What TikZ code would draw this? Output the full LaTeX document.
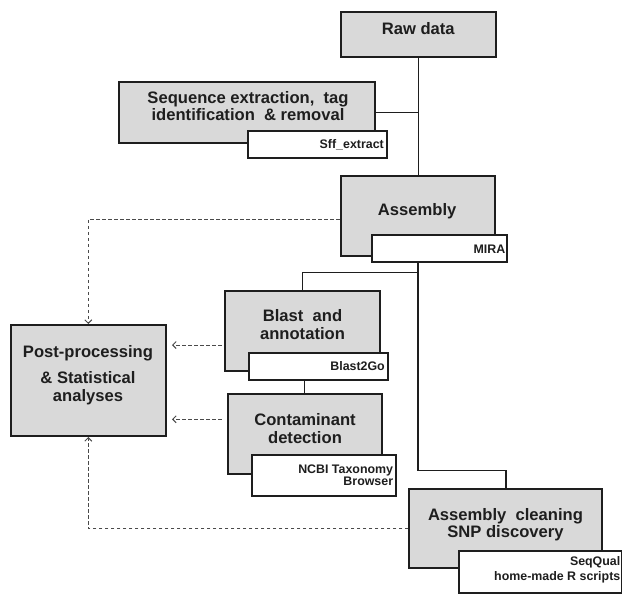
\documentclass[tikz,border=0pt]{standalone}
\usepackage{fontspec}
\setmainfont{Liberation Sans}
\usetikzlibrary{arrows.meta}
\definecolor{boxfill}{HTML}{D9D9D9}
\definecolor{ink}{HTML}{1E1E1E}
\definecolor{dashc}{HTML}{4A4A4A}
\begin{document}
\begin{tikzpicture}[x=1pt,y=-1pt,
  gbox/.style={draw=ink,fill=boxfill,line width=1.9pt,inner sep=0pt},
  wbox/.style={draw=ink,fill=white,line width=1.9pt,inner sep=0pt},
  conn/.style={draw=ink,line width=1.5pt},
  dsh/.style={draw=dashc,line width=1pt,dash pattern=on 3.5pt off 2.5pt},
  tip/.style={-{Straight Barb[length=3.5pt,width=7pt,line width=1pt]}},
  maintxt/.style={font=\fontsize{16.6}{17}\selectfont\bfseries,text=ink,inner sep=0pt,anchor=base},
  smalltxt/.style={font=\fontsize{12.4}{13}\selectfont\bfseries,text=ink,inner sep=0pt,anchor=base east}]
\useasboundingbox (0,0) rectangle (622,594);

% positions of boxes
\coordinate (pRaw) at (418.5,34.5);
\coordinate (pSeq) at (247,112.5);
\coordinate (pSff) at (317.35,144.2);
\coordinate (pAsm) at (417.85,215.7);
\coordinate (pMira) at (439.5,248.35);
\coordinate (pBlast) at (302.5,330.85);
\coordinate (pBtg) at (318.5,366.65);
\coordinate (pCont) at (304.7,434);
\coordinate (pNcbi) at (324.15,475.35);
\coordinate (pPost) at (88.35,380.5);
\coordinate (pSnp) at (505.8,528.8);
\coordinate (pSeqq) at (540.4,572);
\coordinate (c1) at (418,470.7);
\coordinate (c2) at (418,272.7);

% gray boxes
\node[gbox,minimum width=155pt,minimum height=44.4pt] (raw) at (pRaw) {};
\node[gbox,minimum width=256pt,minimum height=61.6pt] (seq) at (pSeq) {};
\node[gbox,minimum width=154.3pt,minimum height=80pt] (asm) at (pAsm) {};
\node[gbox,minimum width=155pt,minimum height=79.7pt] (blast) at (pBlast) {};
\node[gbox,minimum width=154pt,minimum height=80pt] (cont) at (pCont) {};
\node[gbox,minimum width=154.7pt,minimum height=111pt] (post) at (pPost) {};
\node[gbox,minimum width=193pt,minimum height=79pt] (snp) at (pSnp) {};

% white label boxes
\node[wbox,minimum width=138.7pt,minimum height=27pt] (sff) at (pSff) {};
\node[wbox,minimum width=135.6pt,minimum height=26.7pt] (mira) at (pMira) {};
\node[wbox,minimum width=138.4pt,minimum height=26.7pt] (btg) at (pBtg) {};
\node[wbox,minimum width=143.7pt,minimum height=40.7pt] (ncbi) at (pNcbi) {};
\node[wbox,minimum width=162.2pt,minimum height=42pt] (seqq) at (pSeqq) {};

% solid connectors
\draw[conn] (raw.south) -- (raw.south |- asm.north);
\draw[conn] (seq.east) -- (seq.east -| raw.south);
\draw[conn] (mira.south -| c1) -- (c1) -| (snp.north);
\draw[conn] (c2) -| (blast.north);
\draw[conn] (btg.south -| cont.north) -- (cont.north);

% dashed arrows
\draw[dsh,tip] ([yshift=-3.6pt]asm.west) -| (post.north);
\path ([xshift=-2.3pt,yshift=-14.2pt]blast.west) coordinate (b1);
\coordinate (b2) at (b1 -| post.east);
\draw[dsh,tip] (b1) -- ([xshift=5.3pt]b2);
\path ([xshift=-5pt,yshift=14.7pt]cont.west) coordinate (k1);
\coordinate (k2) at (k1 -| post.east);
\draw[dsh,tip] (k1) -- ([xshift=5.3pt]k2);
\draw[dsh,tip] (snp.west) -| (post.south);

% texts
\node[maintxt] (tRaw) at (418.3,35) {Raw data};
\node[maintxt] (tSeq1) at (248,104) {Sequence extraction,\ \ tag};
\node[maintxt] (tSeq2) at (248,120.7) {identification \ \& removal};
\node[maintxt] (tAsm) at (417.2,215) {Assembly};
\node[maintxt] (tBl1) at (302.5,321.7) {Blast \ and};
\node[maintxt] (tBl2) at (302.5,339.3) {annotation};
\node[maintxt] (tCo1) at (305,425.7) {Contaminant};
\node[maintxt] (tCo2) at (305,443.3) {detection};
\node[maintxt] (tPo1) at (88,357.7) {Post-processing};
\node[maintxt] (tPo2) at (88,383.3) {\& Statistical};
\node[maintxt] (tPo3) at (88,401.7) {analyses};
\node[maintxt] (tSn1) at (505.5,520) {Assembly \ cleaning};
\node[maintxt] (tSn2) at (505.5,537.7) {SNP discovery};

\node[smalltxt] (tSff) at (384,148.3) {Sff\_extract};
\node[smalltxt] (tMira) at (505.5,253.3) {MIRA};
\node[smalltxt] (tBtg) at (385,370.7) {Blast2Go};
\node[smalltxt] (tNc1) at (393.3,473.3) {NCBI Taxonomy};
\node[smalltxt] (tNc2) at (393.3,485) {Browser};
\node[smalltxt] (tSq1) at (620.5,565.7) {SeqQual};
\node[smalltxt] (tSq2) at (620.5,580.7) {home-made R scripts};
\end{tikzpicture}
\end{document}
